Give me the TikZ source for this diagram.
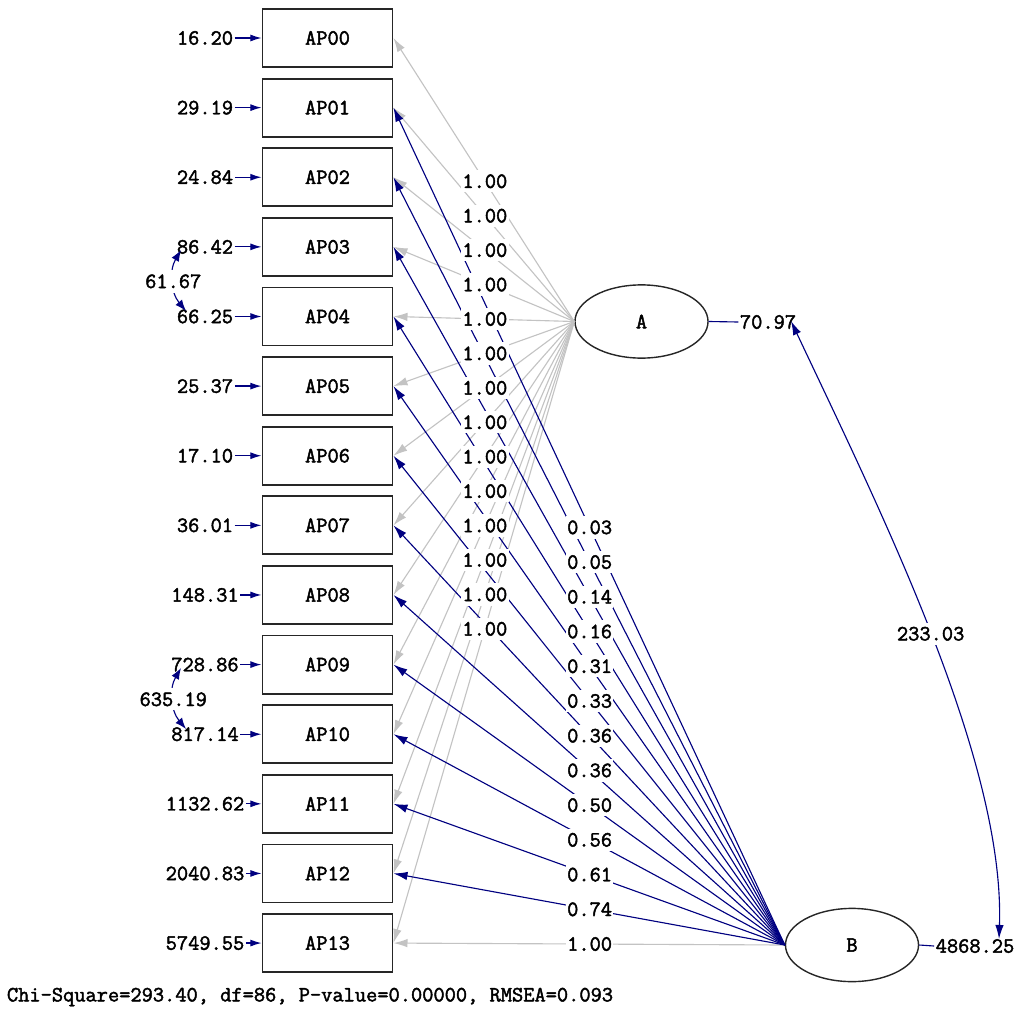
\documentclass[tikz,border=0pt]{standalone}
\usepackage{fontspec}
\newfontfamily\lisfont[FakeBold=2]{Latin Modern Mono}
\usetikzlibrary{arrows.meta,shapes.geometric}
\definecolor{lnavy}{RGB}{0,0,128}
\definecolor{lgrey}{RGB}{195,195,195}
\begin{document}
\begin{tikzpicture}[x=0.025cm,y=-0.025cm,
  every node/.style={font=\lisfont\fontsize{15.5}{17}\selectfont, text=black},
  obs/.style={draw=black!85, line width=1.3pt, minimum width=3.25cm, minimum height=1.45cm, inner sep=0pt},
  lat/.style={ellipse, draw=black!85, line width=1pt, minimum width=3.325cm, minimum height=1.83cm, inner sep=0pt},
  gline/.style={draw=lgrey, line width=0.8pt, -{Latex[length=10pt,width=6pt]}},
  bline/.style={draw=lnavy, line width=0.8pt, -{Latex[length=10pt,width=6pt]}},
  eline/.style={draw=lnavy, line width=0.9pt, -{Latex[length=8pt,width=5pt]}},
  nline/.style={draw=lnavy, line width=0.8pt},
  elab/.style={inner sep=1pt},
  lab/.style={fill=white, inner xsep=1pt, inner ysep=3pt},
]
\useasboundingbox (0,0) rectangle (1024,1018);
\foreach \e [count=\i from 0] in {16.20,29.19,24.84,86.42,66.25,25.37,17.10,36.01,148.31,728.86,817.14,1132.62,2040.83,5749.55}{
  \pgfmathsetmacro\cy{38+69.62*\i}
  \node[obs] (p\i) at (327.5,\cy) {AP\ifnum\i<10 0\fi\i};
  \node[elab] (e\i) at (205,\cy) {\e};
  \draw[eline] (e\i) -- (p\i);
}
\node[lat] (A) at (641.5,321.5) {A};
\node[lat] (B) at (852,945) {B};
\node[elab] (vA) at (768,322) {70.97};
\node[elab] (vB) at (975,946) {4868.25};
\draw[nline] (A.east) -- (vA.west);
\draw[nline] (B.east) -- (vB.west);
% loadings
\foreach \i in {0,...,13} \draw[gline] (A.west) -- (p\i.east);
\draw[gline] (B.west) -- (p13.east);
\foreach \i in {1,...,12} \draw[bline] (B.west) -- (p\i.east);
\foreach \i in {0,...,13} \path (A.west) -- (p\i.east) node[lab,pos=0.4945]{1.00};
\foreach \v [count=\i from 1] in {0.03,0.05,0.14,0.16,0.31,0.33,0.36,0.36,0.50,0.56,0.61,0.74,1.00}
  \path (B.west) -- (p\i.east) node[lab,pos=0.4987]{\v};
% covariances
\coordinate (cA) at (791,321);
\coordinate (cB) at (999,939);
\draw[nline, {Latex[length=10pt,width=6pt]}-{Latex[length=10pt,width=6pt]}] (cA) .. controls (880,510) and (1005,760) .. (cB) node[lab,pos=0.5]{233.03};
\coordinate (c3t) at (181,250);
\coordinate (c3b) at (186,311);
\draw[nline, {Latex[length=8pt,width=6pt]}-{Latex[length=8pt,width=6pt]}] (c3t) to[bend right=35] node[lab]{61.67} (c3b);
\coordinate (c9t) at (181,668);
\coordinate (c9b) at (186,729);
\draw[nline, {Latex[length=8pt,width=6pt]}-{Latex[length=8pt,width=6pt]}] (c9t) to[bend right=35] node[lab]{635.19} (c9b);
\node[elab] (fit) at (310,997) {Chi-Square=293.40, df=86, P-value=0.00000, RMSEA=0.093};
\end{tikzpicture}
\end{document}
